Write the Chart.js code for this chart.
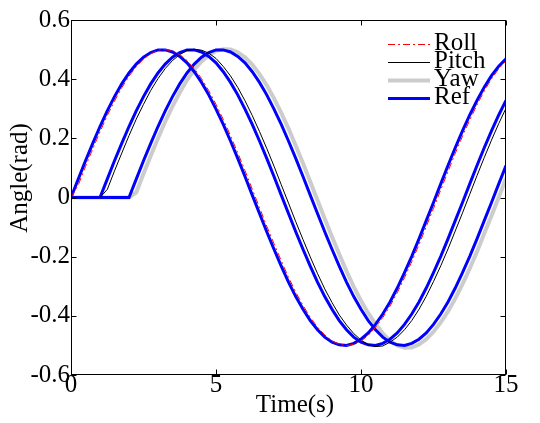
<!DOCTYPE html>
<html>
<head>
<meta charset="utf-8">
<script src="https://cdn.jsdelivr.net/npm/chart.js@4"></script>
<style>
  html, body { margin: 0; padding: 0; background: #fff; }
  #wrap { width: 540px; height: 423px; }
</style>
</head>
<body>
<div id="wrap"><canvas id="myChart" width="540" height="423"></canvas></div>
<script>
// time axis (s)
const time = [0, 0.25, 0.5, 0.75, 1, 1.25, 1.5, 1.75, 2, 2.25, 2.5, 2.75, 3, 3.25, 3.5, 3.75,
  4, 4.25, 4.5, 4.75, 5, 5.25, 5.5, 5.75, 6, 6.25, 6.5, 6.75, 7, 7.25, 7.5, 7.75,
  8, 8.25, 8.5, 8.75, 9, 9.25, 9.5, 9.75, 10, 10.25, 10.5, 10.75, 11, 11.25, 11.5, 11.75,
  12, 12.25, 12.5, 12.75, 13, 13.25, 13.5, 13.75, 14, 14.25, 14.5, 14.75, 15];

// references (rad)
const ref1 = [0, 0.062, 0.124, 0.183, 0.240, 0.293, 0.341, 0.384, 0.421, 0.451,
  0.474, 0.490, 0.499, 0.499, 0.492, 0.477, 0.455, 0.425, 0.389, 0.347,
  0.299, 0.247, 0.191, 0.132, 0.071, 0.008, -0.054, -0.116, -0.175, -0.232,
  -0.286, -0.335, -0.378, -0.416, -0.447, -0.472, -0.489, -0.498, -0.500, -0.493,
  -0.479, -0.458, -0.429, -0.394, -0.353, -0.306, -0.254, -0.199, -0.140, -0.078,
  -0.017, 0.046, 0.108, 0.168, 0.225, 0.279, 0.328, 0.373, 0.412, 0.444, 0.469];
const ref2 = [0, 0, 0, 0, 0, 0.062, 0.124, 0.183, 0.240, 0.293,
  0.341, 0.384, 0.421, 0.451, 0.474, 0.490, 0.499, 0.499, 0.492, 0.477,
  0.455, 0.425, 0.389, 0.347, 0.299, 0.247, 0.191, 0.132, 0.071, 0.008,
  -0.054, -0.116, -0.175, -0.232, -0.286, -0.335, -0.378, -0.416, -0.447, -0.472,
  -0.489, -0.498, -0.500, -0.493, -0.479, -0.458, -0.429, -0.394, -0.353, -0.306,
  -0.254, -0.199, -0.140, -0.078, -0.017, 0.046, 0.108, 0.168, 0.225, 0.279, 0.328];
const ref3 = [0, 0, 0, 0, 0, 0, 0, 0, 0, 0.062,
  0.124, 0.183, 0.240, 0.293, 0.341, 0.384, 0.421, 0.451, 0.474, 0.490,
  0.499, 0.499, 0.492, 0.477, 0.455, 0.425, 0.389, 0.347, 0.299, 0.247,
  0.191, 0.132, 0.071, 0.008, -0.054, -0.116, -0.175, -0.232, -0.286, -0.335,
  -0.378, -0.416, -0.447, -0.472, -0.489, -0.498, -0.500, -0.493, -0.479, -0.458,
  -0.429, -0.394, -0.353, -0.306, -0.254, -0.199, -0.140, -0.078, -0.017, 0.046, 0.108];

// measured responses
const roll = [0, 0.042, 0.105, 0.164, 0.222, 0.277, 0.326, 0.371, 0.410, 0.442,
  0.468, 0.486, 0.498, 0.500, 0.496, 0.483, 0.463, 0.436, 0.402, 0.361,
  0.315, 0.264, 0.209, 0.151, 0.091, 0.028, -0.034, -0.097, -0.156, -0.214,
  -0.270, -0.320, -0.365, -0.405, -0.438, -0.465, -0.485, -0.496, -0.501, -0.496,
  -0.485, -0.466, -0.439, -0.406, -0.367, -0.322, -0.271, -0.217, -0.159, -0.098,
  -0.037, 0.026, 0.088, 0.149, 0.207, 0.262, 0.313, 0.360, 0.401, 0.435, 0.462];
const pitch = [0, 0, 0, 0, 0, 0.027, 0.090, 0.150, 0.209, 0.265,
  0.315, 0.362, 0.402, 0.436, 0.463, 0.483, 0.497, 0.501, 0.498, 0.488,
  0.470, 0.443, 0.411, 0.372, 0.327, 0.277, 0.223, 0.166, 0.106, 0.043,
  -0.019, -0.082, -0.142, -0.201, -0.257, -0.309, -0.355, -0.397, -0.431, -0.460,
  -0.482, -0.498, -0.504, -0.502, -0.489, -0.472, -0.447, -0.416, -0.378, -0.334,
  -0.284, -0.231, -0.174, -0.113, -0.052, 0.011, 0.074, 0.135, 0.194, 0.250, 0.302];
const yaw = [0, 0, 0, 0, 0, 0, 0, 0, 0, 0.017,
  0.080, 0.141, 0.200, 0.257, 0.308, 0.355, 0.397, 0.432, 0.460, 0.481,
  0.496, 0.501, 0.500, 0.491, 0.474, 0.449, 0.417, 0.379, 0.335, 0.286,
  0.233, 0.175, 0.116, 0.053, -0.009, -0.072, -0.133, -0.192, -0.249, -0.302,
  -0.349, -0.391, -0.427, -0.459, -0.484, -0.500, -0.508, -0.507, -0.497, -0.479,
  -0.454, -0.422, -0.385, -0.342, -0.293, -0.240, -0.183, -0.122, -0.062, 0.001, 0.064];

const xTicks = [0, 5, 10, 15];
const legendOrder = ['Roll', 'Pitch', 'Yaw', 'Ref'];

const FONT = '"Liberation Serif", "Times New Roman", serif';
const pts = arr => time.map((t, i) => ({ x: t, y: arr[i] }));

// box + inward ticks, matlab style
const framePlugin = {
  id: 'frame',
  afterDatasetsDraw(chart) {
    const { ctx, chartArea: a, scales } = chart;
    const L = Math.round(a.left) + 0.5, R = Math.round(a.right) - 0.5;
    const T = Math.round(a.top) + 0.5, B = Math.round(a.bottom) - 0.5;
    const tl = 5;
    ctx.save();
    ctx.strokeStyle = '#000';
    ctx.lineWidth = 1;
    ctx.strokeRect(L, T, R - L, B - T);
    ctx.beginPath();
    scales.x.ticks.forEach(t => {
      const x = Math.round(scales.x.getPixelForValue(t.value)) + 0.5;
      ctx.moveTo(x, B); ctx.lineTo(x, B - tl);
      ctx.moveTo(x, T); ctx.lineTo(x, T + tl);
    });
    scales.y.ticks.forEach(t => {
      const y = Math.round(scales.y.getPixelForValue(t.value)) + 0.5;
      ctx.moveTo(L, y); ctx.lineTo(L + tl, y);
      ctx.moveTo(R, y); ctx.lineTo(R - tl, y);
    });
    ctx.stroke();
    ctx.restore();
  }
};

// axis titles
const titlePlugin = {
  id: 'titles',
  afterDraw(chart) {
    const ctx = chart.ctx;
    ctx.save();
    ctx.fillStyle = '#000';
    ctx.font = '25px ' + FONT;
    ctx.textAlign = 'center';
    ctx.textBaseline = 'middle';
    ctx.fillText('Time(s)', 295, 405);
    ctx.translate(20, 178);
    ctx.rotate(-Math.PI / 2);
    ctx.fillText('Angle(rad)', 0, 0);
    ctx.restore();
  }
};

// legend inside the axes, top right
const legendPlugin = {
  id: 'innerLegend',
  afterDraw(chart) {
    const ctx = chart.ctx;
    const ds = chart.data.datasets;
    ctx.save();
    ctx.font = '25px ' + FONT;
    ctx.textBaseline = 'middle';
    ctx.textAlign = 'left';
    legendOrder.forEach((lab, i) => {
      const d = ds.find(s => s.label === lab);
      const y = 44 + i * 18;
      ctx.strokeStyle = d.borderColor;
      ctx.lineWidth = d.borderWidth;
      ctx.setLineDash(d.borderDash || []);
      ctx.beginPath();
      ctx.moveTo(388, y + 0.5);
      ctx.lineTo(430, y + 0.5);
      ctx.stroke();
      ctx.setLineDash([]);
      ctx.fillStyle = '#000';
      ctx.fillText(lab, 434, y - 1);
    });
    ctx.restore();
  }
};

new Chart(document.getElementById('myChart'), {
  type: 'line',
  data: {
    datasets: [
      { label: 'Roll', data: pts(roll), borderColor: '#ff0000', borderWidth: 1, borderDash: [7, 3, 2, 3] },
      { label: 'Pitch', data: pts(pitch), borderColor: '#000000', borderWidth: 1 },
      { label: 'Ref', data: pts(ref1), borderColor: '#0000ff', borderWidth: 3 },
      { label: 'Ref', data: pts(ref2), borderColor: '#0000ff', borderWidth: 3 },
      { label: 'Ref', data: pts(ref3), borderColor: '#0000ff', borderWidth: 3 },
      { label: 'Yaw', data: pts(yaw), borderColor: '#cccccc', borderWidth: 4 }
    ]
  },
  options: {
    responsive: false,
    animation: false,
    layout: { padding: { left: 0, top: 20, right: 34, bottom: 0 } },
    elements: { point: { radius: 0 }, line: { tension: 0, borderCapStyle: 'butt' } },
    plugins: { legend: { display: false }, tooltip: { enabled: false } },
    scales: {
      x: {
        type: 'linear', min: 0, max: 15,
        afterBuildTicks: s => { s.ticks = xTicks.map(v => ({ value: v })); },
        afterFit: s => { s.height = 48; },
        grid: { display: false, drawTicks: false },
        border: { display: false },
        ticks: { color: '#000', padding: -5, maxRotation: 0, font: { family: FONT, size: 25 } }
      },
      y: {
        min: -0.6, max: 0.6,
        afterFit: s => { s.width = 71; },
        grid: { display: false, drawTicks: false },
        border: { display: false },
        ticks: {
          stepSize: 0.2, color: '#000', padding: 1,
          font: { family: FONT, size: 25 },
          callback: v => Math.abs(v) < 1e-9 ? '0' : v.toFixed(1)
        }
      }
    }
  },
  plugins: [framePlugin, titlePlugin, legendPlugin]
});
</script>
</body>
</html>
